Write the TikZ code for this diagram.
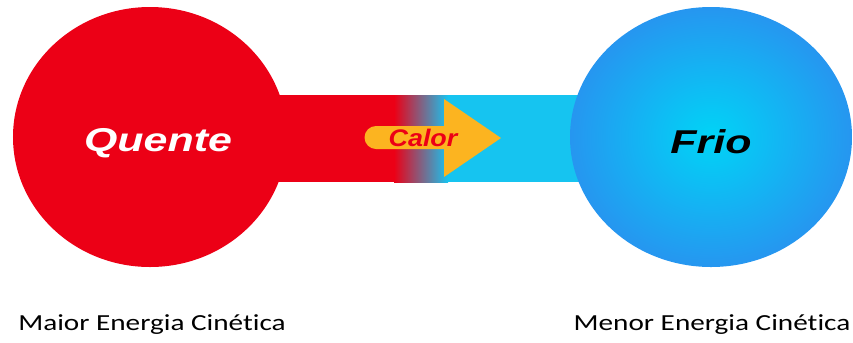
\documentclass[tikz,border=0pt]{standalone}
\usepackage{fontspec}
\setmainfont{Carlito}[Ligatures=NoCommon, FakeStretch=1.27]
\newfontfamily\titlefont[FakeStretch=1.3]{Liberation Sans}
\newfontfamily\calorfont[FakeStretch=1.12]{Liberation Sans}
\usetikzlibrary{shapes.geometric}

\definecolor{hotred}{RGB}{236,0,22}
\definecolor{coldcyan}{RGB}{0,212,246}
\definecolor{coldblue}{RGB}{38,150,240}
\definecolor{barcyan}{RGB}{22,196,240}
\definecolor{calororange}{RGB}{252,180,32}

\begin{document}
\begin{tikzpicture}
    [
    x=1bp, y=-1bp,
    ball/.style={
      ellipse,
      minimum width=274bp,
      minimum height=260bp,
      inner sep=0pt
    },
    title/.style={
      font=\titlefont\bfseries\itshape\fontsize{33bp}{35bp}\selectfont
    },
    caption/.style={
      font=\fontsize{23bp}{26bp}\selectfont,
      text=black
    }
    ]
    \useasboundingbox (0,0) rectangle (853,342);
    % bar between the two balls
    \fill[hotred] (150,95) rectangle (394,182);
    \shade[left color=hotred, right color=barcyan] (394,95) rectangle (448,182);
    \fill[barcyan] (448,95) rectangle (711,182);
    % the two balls
    \node[ball, fill=hotred] (hot) at (150,137) {};
    \node[ball, minimum width=282bp, inner color=coldcyan, outer color=coldblue] (cold) at (711,137) {};
    \node[title, text=white] (hottext) at (158,143) {Quente};
    \node[title, text=black] (coldtext) at (711,142) {Frio};
    % heat arrow
    \fill[calororange] (376,126) -- (444,126) -- (444,99) -- (501,138)
      -- (444,177) -- (444,149) -- (376,149) arc (90:270:11.5) -- cycle;
    \node[text=hotred, font=\calorfont\bfseries\itshape\fontsize{24bp}{26bp}\selectfont] (calor) at (423,138) {Calor};
    % captions
    \node[caption] (hotcap) at (152,325) {Maior Energia Cinética};
    \node[caption] (coldcap) at (712,325) {Menor Energia Cinética};
  \end{tikzpicture}
\end{document}
